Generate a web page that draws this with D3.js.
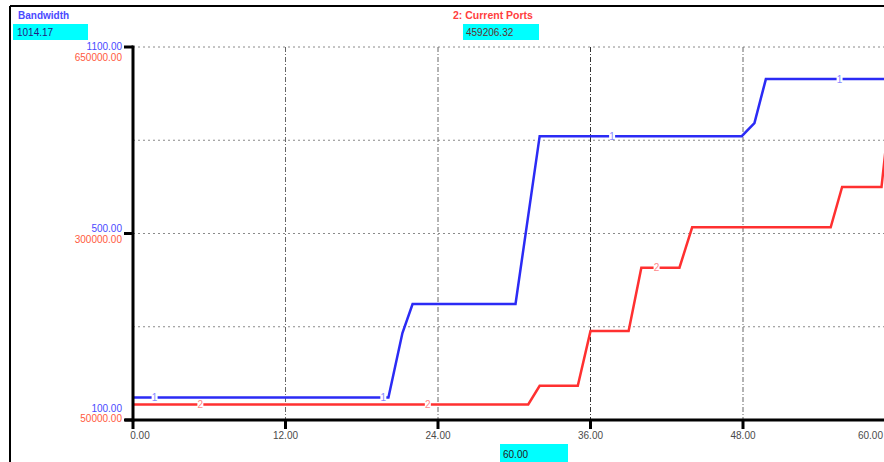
<!DOCTYPE html>
<html>
<head>
<meta charset="utf-8">
<script src="https://cdn.jsdelivr.net/npm/d3@7/dist/d3.min.js"></script>
<style>
  html, body { margin: 0; padding: 0; background: #fff; }
  svg { display: block; font-family: Arial, "Liberation Sans", sans-serif; }
</style>
</head>
<body>
<svg id="chart" width="884" height="462"></svg>
<script>
// ---------- data ----------
const bwTime   = [0, 20.1, 21.2, 22.0, 30.1, 32.0, 47.9, 48.9, 49.8, 60];
const bwValue  = [160, 160, 333, 411, 411, 861, 861, 896, 1014, 1014.17];
const cpTime   = [0, 31.1, 32.0, 35.0, 36.0, 39.0, 40.0, 43.0, 44.0, 54.9, 55.8, 58.9, 59.3];
const cpValue  = [75000, 75000, 105000, 105000, 193000, 193000, 295000, 295000, 360000, 360000, 425000, 425000, 500000];
const xTicks   = [0, 12, 24, 36, 48, 60];
const xTickLabels = ["0.00", "12.00", "24.00", "36.00", "48.00", "60.00"];
const bwTicks  = [100, 600, 1100];
const bwTickLabels = ["100.00", "500.00", "1100.00"];
const cpTicks  = [50000, 350000, 650000];
const cpTickLabels = ["50000.00", "300000.00", "650000.00"];
const gridValues = [350, 600, 850, 1100];
const bwLabelTimes = [1.7, 19.7, 37.7, 55.6];
const cpLabelTimes = [5.3, 23.2, 41.2];
const seriesNames = ["Bandwidth", "2: Current Ports"];
const currentValues = ["1014.17", "459206.32"];
const cursorTime = "60.00";

// ---------- layout ----------
const W = 884, H = 462;
const x0 = 133, yTop = 47, yBot = 420;
const svg = d3.select("#chart");
const blue = "#2b2bf5", red = "#ff3030";

const x = d3.scaleLinear().domain([0, 60]).range([x0, 895.5]);
const yB = d3.scaleLinear().domain([100, 1100]).range([yBot, yTop]);
const yR = d3.scaleLinear().domain([50000, 650000]).range([yBot, yTop]);

// outer frame
svg.append("line").attr("x1", 10).attr("x2", W).attr("y1", 6).attr("y2", 6)
  .attr("stroke", "#000").attr("stroke-width", 2);
svg.append("line").attr("x1", 10).attr("x2", 10).attr("y1", 6).attr("y2", H)
  .attr("stroke", "#000").attr("stroke-width", 2);

// horizontal grid
svg.append("g").selectAll("line").data(gridValues).join("line")
  .attr("x1", x0).attr("x2", W)
  .attr("y1", d => yB(d)).attr("y2", d => yB(d))
  .attr("stroke", "#8a8a8a").attr("stroke-width", 1)
  .attr("stroke-dasharray", "2,3");

// vertical grid
svg.append("g").selectAll("line").data(xTicks.slice(1)).join("line")
  .attr("x1", d => x(d)).attr("x2", d => x(d))
  .attr("y1", yTop).attr("y2", yBot)
  .attr("stroke", (d) => d === 36 ? "#333" : "#666").attr("stroke-width", 1)
  .attr("stroke-dasharray", "5,2,1,2");

// clip
svg.append("clipPath").attr("id", "plotClip").append("rect")
  .attr("x", x0).attr("y", yTop - 5).attr("width", W - x0).attr("height", yBot - yTop + 5);

const bwData = bwTime.map((t, i) => [t, bwValue[i]]);
const cpData = cpTime.map((t, i) => [t, cpValue[i]]);

const lineB = d3.line().x(d => x(d[0])).y(d => yB(d[1]));
const lineR = d3.line().x(d => x(d[0])).y(d => yR(d[1]));

const plot = svg.append("g").attr("clip-path", "url(#plotClip)");
plot.append("path").datum(cpData).attr("d", lineR)
  .attr("fill", "none").attr("stroke", red).attr("stroke-width", 2.5);
plot.append("path").datum(bwData).attr("d", lineB)
  .attr("fill", "none").attr("stroke", blue).attr("stroke-width", 2.5);

// line number labels
function interp(times, vals, t) {
  for (let i = 1; i < times.length; i++) {
    if (t <= times[i]) {
      const f = (t - times[i - 1]) / (times[i] - times[i - 1]);
      return vals[i - 1] + f * (vals[i] - vals[i - 1]);
    }
  }
  return vals[vals.length - 1];
}
function addMarks(times, series, yScale, label, color) {
  const g = plot.append("g");
  times.forEach(t => {
    const cx = x(t), cy = yScale(interp(series[0], series[1], t));
    g.append("rect").attr("x", cx - 3).attr("y", cy - 3).attr("width", 6).attr("height", 6)
      .attr("fill", "#fff");
    g.append("text").attr("x", cx).attr("y", cy + 3.5).attr("text-anchor", "middle")
      .attr("font-size", 10).attr("fill", color).attr("opacity", 0.75).text(label);
  });
}
addMarks(bwLabelTimes, [bwTime, bwValue], yB, "1", "#6060ff");
addMarks(cpLabelTimes, [cpTime, cpValue], yR, "2", "#ff6060");

// axes
svg.append("line").attr("x1", x0).attr("x2", x0).attr("y1", yTop - 1.5).attr("y2", yBot + 1.5)
  .attr("stroke", "#000").attr("stroke-width", 3);
svg.append("line").attr("x1", 125).attr("x2", W).attr("y1", yBot).attr("y2", yBot)
  .attr("stroke", "#000").attr("stroke-width", 3);
svg.append("g").selectAll("line").data(bwTicks).join("line")
  .attr("x1", 124).attr("x2", x0).attr("y1", d => yB(d)).attr("y2", d => yB(d))
  .attr("stroke", "#000").attr("stroke-width", 3);
svg.append("g").selectAll("line").data(xTicks).join("line")
  .attr("x1", d => x(d)).attr("x2", d => x(d)).attr("y1", yBot).attr("y2", yBot + 9)
  .attr("stroke", "#000").attr("stroke-width", 3);

// y tick labels
svg.append("g").selectAll("text").data(bwTicks).join("text")
  .attr("x", 122).attr("y", (d, i) => yB(d) + (i === 1 ? -2 : (i === 0 ? -8 : 3)))
  .attr("text-anchor", "end").attr("font-size", 10).attr("fill", "#4a4aff")
  .text((d, i) => bwTickLabels[i]);
svg.append("g").selectAll("text").data(cpTicks).join("text")
  .attr("x", 122).attr("y", (d, i) => yR(d) + (i === 1 ? 9 : (i === 0 ? 2 : 14)))
  .attr("text-anchor", "end").attr("font-size", 10).attr("fill", "#ff5a40")
  .text((d, i) => cpTickLabels[i]);

// x tick labels (kept inside the window)
svg.append("g").selectAll("text").data(xTicks).join("text")
  .attr("x", d => x(d) > W - 16 ? W - 1 : Math.max(x(d), 140))
  .attr("text-anchor", d => x(d) > W - 16 ? "end" : "middle")
  .attr("y", 439).attr("font-size", 10).attr("fill", "#4a4a4a")
  .text((d, i) => xTickLabels[i]);

// legend
svg.append("text").attr("x", 18).attr("y", 19).attr("font-size", 10).attr("font-weight", "bold")
  .attr("fill", "#4a4aff").text(seriesNames[0]);
svg.append("rect").attr("x", 13).attr("y", 24).attr("width", 75).attr("height", 16).attr("fill", "#00ffff");
svg.append("text").attr("x", 17).attr("y", 36).attr("font-size", 10).attr("fill", "#202080").text(currentValues[0]);

svg.append("text").attr("x", 453).attr("y", 19).attr("font-size", 10.5).attr("font-weight", "bold")
  .attr("fill", "#ff4040").text(seriesNames[1]);
svg.append("rect").attr("x", 463).attr("y", 24).attr("width", 76).attr("height", 16).attr("fill", "#00ffff");
svg.append("text").attr("x", 466).attr("y", 36).attr("font-size", 10).attr("fill", "#603030").text(currentValues[1]);

// cursor time box
svg.append("rect").attr("x", 500).attr("y", 444).attr("width", 68).attr("height", 18).attr("fill", "#00ffff");
svg.append("text").attr("x", 503).attr("y", 458).attr("font-size", 10).attr("fill", "#202020").text(cursorTime);
</script>
</body>
</html>
